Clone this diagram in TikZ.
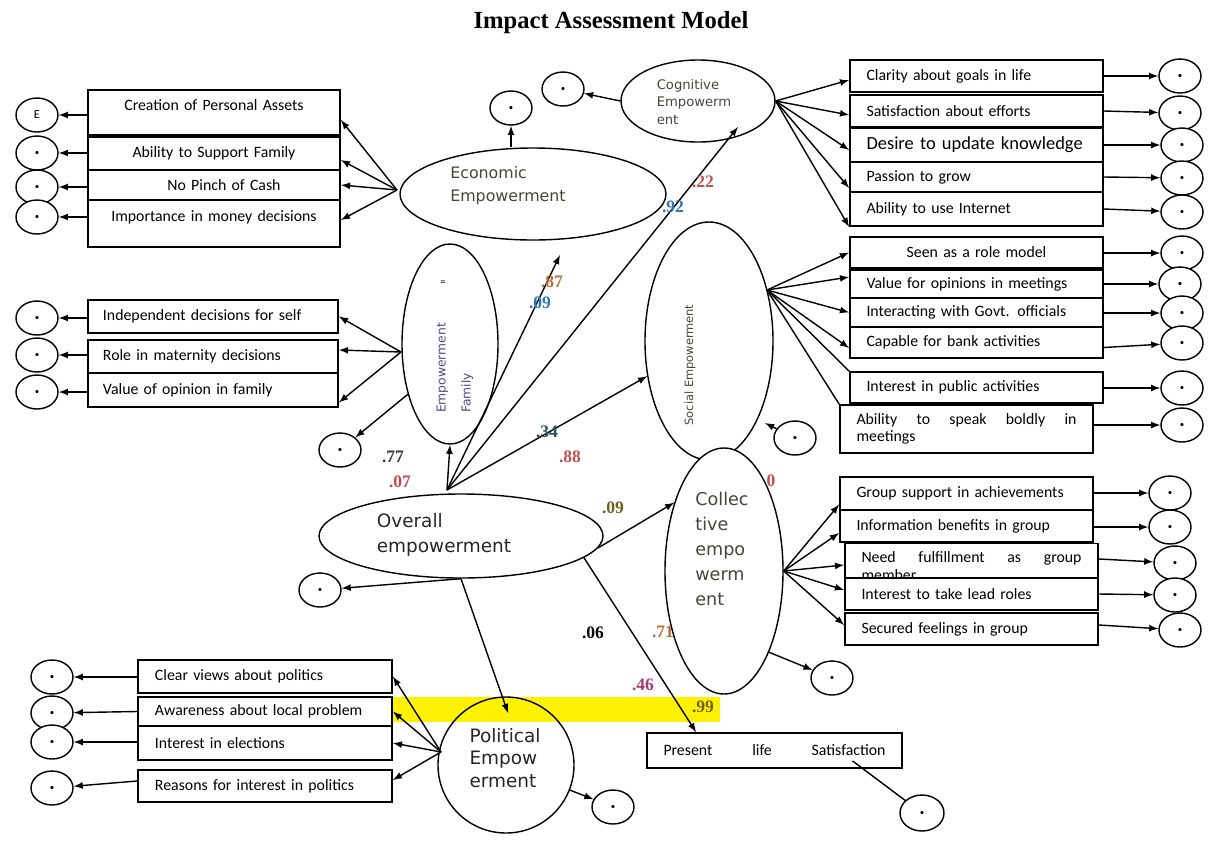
\documentclass[tikz,border=0pt]{standalone}
\usepackage{fontspec}
\setmainfont{Carlito}
\newfontfamily\latfont{DejaVu Sans}
\newfontfamily\numfont{Liberation Serif}
\usepackage{tikz}
\usetikzlibrary{arrows,shapes.geometric}
\definecolor{hilite}{RGB}{255,242,0}
\definecolor{numred}{RGB}{192,80,77}
\definecolor{numblue}{RGB}{46,117,182}
\definecolor{numbrown}{RGB}{184,112,58}
\definecolor{numolive}{RGB}{110,100,30}
\definecolor{numgreen}{RGB}{45,65,45}
\definecolor{numpurple}{RGB}{160,60,120}
\definecolor{labgray}{RGB}{70,70,60}
\definecolor{famviolet}{RGB}{85,70,130}

\begin{document}
\begin{tikzpicture}[x=0.2mm,y=-0.2mm,
        ind/.style={draw, fill=white, line width=1pt, inner sep=0pt, minimum width=50.6mm,
                    text width=44mm, align=left, font=\fontsize{9}{10}\selectfont},
        err/.style={draw, ellipse, fill=white, line width=0.8pt, inner sep=0pt,
                    minimum width=8.4mm, minimum height=6.8mm, font=\fontsize{5}{5}\selectfont},
        lat/.style={draw, ellipse, line width=0.8pt, inner sep=0pt},
        lattxt/.style={align=left, text=labgray, font=\latfont\fontsize{9}{13}\selectfont},
        coef/.style={font=\numfont\bfseries\fontsize{10}{10}\selectfont},
        conn/.style={-latex, line width=0.8pt},
        plain/.style={line width=0.8pt}]

        \useasboundingbox (0,0) rectangle (1209,842);
        \fill[hilite] (392,697) rectangle (720,722);

        \node[font=\numfont\bfseries\fontsize{14}{14}\selectfont] (title) at (611,23) {Impact Assessment Model};

        \node[lat, minimum width=53.2mm, minimum height=18.4mm] (econ) at (533,194) {};
        \node[lattxt] (econtxt) at (508,186) {Economic\\Empowerment};
        \node[lat, minimum width=30.8mm, minimum height=16.4mm] (cog) at (698,101) {};
        \node[lattxt, font=\latfont\fontsize{7.5}{10}\selectfont] (cogtxt) at (694,102) {Cognitive\\Empowerm\\ent};
        \node[lat, minimum width=25.6mm, minimum height=47.6mm] (soc) at (709,341) {};
        \node[lattxt, rotate=90, font=\latfont\fontsize{6.5}{8}\selectfont] (soctxt) at (690,365) {Social Empowerment};
        \node[lat, fill=white, minimum width=23.6mm, minimum height=49.2mm] (col) at (724,571) {};
        \node[lattxt, font=\latfont\fontsize{10}{14.2}\selectfont] (coltxt) at (722,549) {Collec\\tive\\empo\\werm\\ent};
        \node[lat, minimum width=19.2mm, minimum height=40mm] (fam) at (450,344) {};
        \node[lattxt, rotate=90, text=famviolet, font=\latfont\fontsize{7}{14.2}\selectfont] (famtxt) at (455,368) {Empowerment\\Family};
        \node[font=\fontsize{6}{6}\selectfont] (fammark) at (443,283) {=};
        \node[lat, minimum width=56.8mm, minimum height=16.8mm] (ov) at (461,536) {};
        \node[lattxt, text=black!85, font=\latfont\fontsize{10.5}{14.2}\selectfont] (ovtxt) at (444,535) {Overall\\empowerment};
        \node[lat, minimum width=27.2mm, minimum height=27.2mm] (pol) at (506,765) {};
        \node[lattxt, text=black!85, font=\latfont\fontsize{10.5}{13}\selectfont] (poltxt) at (505,758) {Political\\Empow\\erment};

        \node[ind, align=center, minimum width=50.4mm, minimum height=9mm, text depth=3mm] (eb1) at (214,112.5) {Creation of Personal Assets};
        \node[ind, align=center, minimum width=50.4mm, minimum height=6.6mm] (eb2) at (214,153.5) {Ability to Support Family};
        \node[ind, align=center, minimum width=50.4mm, minimum height=6mm] (eb3) at (214,185) {\hspace*{4mm}No Pinch of Cash};
        \node[ind, align=center, minimum width=50.4mm, minimum height=9.4mm, text depth=3mm] (eb4) at (214,223.5) {Importance in money decisions};

        \node[ind, minimum width=50mm, minimum height=6.6mm] (fb1) at (213,316.5) {Independent decisions for self};
        \node[ind, minimum width=50mm, minimum height=6.6mm] (fb2) at (213,356.5) {Role in maternity decisions};
        \node[ind, minimum width=50mm, minimum height=6.8mm] (fb3) at (213,390) {Value of opinion in family};

        \node[ind, minimum height=6.4mm] (cb1) at (976.5,76) {Clarity about goals in life};
        \node[ind, minimum height=6.4mm] (cb2) at (976.5,111) {Satisfaction about efforts};
        \node[ind, minimum height=6.8mm, font=\fontsize{10.5}{11}\selectfont] (cb3) at (976.5,145) {Desire to update knowledge};
        \node[ind, minimum height=6mm] (cb4) at (976.5,177) {Passion to grow};
        \node[ind, minimum height=6.8mm] (cb5) at (976.5,209) {Ability to use Internet};

        \node[ind, align=center, minimum height=6.2mm] (sb1) at (976.5,252.5) {Seen as a role model};
        \node[ind, minimum height=5.6mm] (sb2) at (976.5,284) {Value for opinions in meetings};
        \node[ind, minimum height=5.8mm] (sb3) at (976.5,312.5) {Interacting with Govt. officials};
        \node[ind, minimum height=6.2mm] (sb4) at (976.5,342.5) {Capable for bank activities};
        \node[ind, minimum height=6.2mm] (sb5) at (976.5,387.5) {Interest in public activities};
        \node[ind, minimum height=9.6mm] (sb6) at (966.5,429) {Ability\hfill to\hfill speak\hfill boldly\hfill in\\meetings};

        \node[ind, minimum height=6.6mm] (kb1) at (966.5,493.5) {Group support in achievements};
        \node[ind, minimum height=6.4mm] (kb2) at (966.5,526) {Information benefits in group};
        \node[ind, minimum height=7mm, text depth=1.6mm] (kb3) at (971.5,561) {Need\hfill fulfillment\hfill as\hfill group\\member};
        \node[ind, minimum height=6.4mm] (kb4) at (971.5,594) {Interest to take lead roles};
        \node[ind, minimum height=6.4mm] (kb5) at (971.5,629) {Secured feelings in group};

        \node[ind, minimum width=50.8mm, minimum height=6.6mm] (pb1) at (265,676.5) {Clear views about politics};
        \node[ind, minimum width=50.8mm, minimum height=5.8mm] (pb2) at (265,711.5) {Awareness about local problem};
        \node[ind, minimum width=50.8mm, minimum height=6.8mm] (pb3) at (265,743) {Interest in elections};
        \node[ind, minimum width=50.8mm, minimum height=6.4mm] (pb4) at (265,786) {Reasons for interest in politics};

        \node[ind, minimum width=51mm, text width=44.4mm, minimum height=7mm] (pls) at (774.5,750.5) {Present\hfill life\hfill Satisfaction};

        \node[err, font=\fontsize{7}{7}\selectfont] (ee1) at (37,115) {E};
        \node[err] (ee2) at (37,153) {•};
        \node[err] (ee3) at (37,187) {•};
        \node[err] (ee4) at (37,217) {•};
        \node[err] (fe1) at (37,318) {•};
        \node[err] (fe2) at (37,355) {•};
        \node[err] (fe3) at (37,392) {•};
        \node[err] (pe1) at (52,677) {•};
        \node[err] (pe2) at (52,713) {•};
        \node[err] (pe3) at (52,742) {•};
        \node[err] (pe4) at (52,788) {•};
        \node[err] (ce1) at (1180,76) {•};
        \node[err] (ce2) at (1180,113) {•};
        \node[err] (ce3) at (1182,145) {•};
        \node[err] (ce4) at (1182,178) {•};
        \node[err] (ce5) at (1182,212) {•};
        \node[err] (se1) at (1182,253) {•};
        \node[err] (se2) at (1180,284) {•};
        \node[err] (se3) at (1182,313) {•};
        \node[err] (se4) at (1182,343) {•};
        \node[err] (se5) at (1182,388) {•};
        \node[err] (se6) at (1182,425) {•};
        \node[err] (ke1) at (1170,493) {•};
        \node[err] (ke2) at (1170,527) {•};
        \node[err] (ke3) at (1175,563) {•};
        \node[err] (ke4) at (1175,595) {•};
        \node[err] (ke5) at (1180,630) {•};
        \node[err] (econerr) at (511,108) {•};
        \node[err] (cogerr) at (563,89) {•};
        \node[err] (socerr) at (795,438) {•};
        \node[err] (colerr) at (832,678) {•};
        \node[err] (overr) at (320,590) {•};
        \node[err] (famerr) at (340,450) {•};
        \node[err] (polerr) at (613,807) {•};
        \node[err, minimum width=8.8mm, minimum height=7.2mm] (plserr) at (922,813) {•};

        \coordinate (econsrc) at (397,190);
        \coordinate (famsrc) at (401,352);
        \coordinate (polsrc) at (441,752);
        \coordinate (socsrc) at (767,290);
        \coordinate (socin) at (765,423);
        \coordinate (ovtop) at (447,490);
        \coordinate (econin) at (560,255);
        \coordinate (cogin) at (738,127);
        \coordinate (polin) at (508,713);

        \draw[conn] (eb1.west |- ee1) -- (ee1);
        \draw[conn] (eb2.west |- ee2) -- (ee2);
        \draw[conn] (eb3.west |- ee3) -- (ee3);
        \draw[conn] (eb4.west |- ee4) -- (ee4);
        \draw[conn] (fb1.west |- fe1) -- (fe1);
        \draw[conn] (fb2.west |- fe2) -- (fe2);
        \draw[conn] (fb3.west |- fe3) -- (fe3);
        \draw[conn] (pb1.west |- pe1) -- (pe1);
        \draw[conn] (pb2.west) -- (pe2);
        \draw[conn] (pb3.west |- pe3) -- (pe3);
        \draw[conn] ([yshift=1mm]pb4.west) -- (pe4);
        \draw[conn] (cb1.east |- ce1) -- (ce1);
        \draw[conn] (cb2.east) -- (ce2);
        \draw[conn] (cb3.east) -- (ce3);
        \draw[conn] (cb4.east) -- (ce4);
        \draw[conn] (cb5.east) -- (ce5);
        \draw[conn] (sb1.east |- se1) -- (se1);
        \draw[conn] (sb2.east |- se2) -- (se2);
        \draw[conn] (sb3.east |- se3) -- (se3);
        \draw[conn] ([yshift=-1mm]sb4.east) -- (se4);
        \draw[conn] (sb5.east |- se5) -- (se5);
        \draw[conn] (sb6.east |- se6) -- (se6);
        \draw[conn] (kb1.east |- ke1) -- (ke1);
        \draw[conn] (kb2.east |- ke2) -- (ke2);
        \draw[conn] ([yshift=0.4mm]kb3.east) -- (ke3);
        \draw[conn] (kb4.east) -- (ke4);
        \draw[conn] ([yshift=0.8mm]kb5.east) -- (ke5);

        \draw[conn] (econsrc) -- ([yshift=-1.5mm]eb1.east);
        \draw[conn] (econsrc) -- ([yshift=-1.3mm]eb2.east);
        \draw[conn] (econsrc) -- (eb3.east);
        \draw[conn] (econsrc) -- ([yshift=0.7mm]eb4.east);
        \draw[conn] (econerr |- econ.north) -- (econerr);
        \draw[conn] (famsrc) -- (fb1.east);
        \draw[conn] (famsrc) -- ([yshift=1.3mm]fb2.east);
        \draw[conn] (famsrc) -- ([yshift=-2.5mm]fb3.east);
        \draw[conn] (fam.230) -- (famerr);
        \draw[conn] (cog.east) -- ([yshift=-0.8mm]cb1.west);
        \draw[conn] (cog.east) -- ([yshift=-0.8mm]cb2.west);
        \draw[conn] (cog.east) -- ([yshift=-1mm]cb3.west);
        \draw[conn] (cog.east) -- ([yshift=-2.2mm]cb4.west);
        \draw[conn] (cog.east) -- (cb5.south west);
        \draw[conn] (cog.west) -- (cogerr);
        \draw[conn] (socsrc) -- (sb1.west);
        \draw[conn] (socsrc) -- ([yshift=1.4mm]sb2.west);
        \draw[conn] (socsrc) -- (sb3.west);
        \draw[conn] (socsrc) -- ([yshift=-1.1mm]sb4.west);
        \draw[plain] (socsrc) -- (sb5.north west);
        \draw[plain] (socsrc) -- (sb6.north west);
        \draw[conn] (socerr) -- (socin);
        \draw[conn] (col.east) -- ([yshift=-2.2mm]kb1.west);
        \draw[conn] (col.east) -- ([yshift=-1.4mm]kb2.west);
        \draw[conn] (col.east) -- ([yshift=-0.8mm]kb3.west);
        \draw[conn] (col.east) -- ([yshift=0.8mm]kb4.west);
        \draw[conn] (col.east) -- ([yshift=0.8mm]kb5.west);
        \draw[conn] (col.-61) -- (colerr);
        \draw[conn] (polsrc) -- (pb1.east);
        \draw[conn] (polsrc) -- (pb2.east);
        \draw[conn] (polsrc) -- (pb3.east);
        \draw[conn] (polsrc) -- ([yshift=1.2mm]pb4.east);
        \draw[conn] (pol) -- (polerr);
        \draw[plain] ([xshift=15.6mm,yshift=1.6mm]pls.south) -- (plserr);

        \draw[conn] (ovtop) -- (fam.south);
        \draw[conn] (ovtop) -- (econin);
        \draw[conn] (ovtop) -- (cogin);
        \draw[conn] (ovtop) -- (soc);
        \draw[conn] (ov.-5) -- (col.126);
        \draw[conn] (ov.-10) -- ([xshift=10mm]pls.north west);
        \draw[conn] (ov.south) -- (polin);
        \draw[conn] (ov.south) -- (overr);

        \node[coef, text=numred] (k22) at (703,182) {.22};
        \node[coef, text=numblue] (k92) at (673,207) {.92};
        \node[coef, text=numbrown] (k87) at (552,282) {.87};
        \node[coef, text=numblue] (k09a) at (540,303) {.09};
        \node[coef, text=numgreen!70!numblue] (k34) at (547,432) {.34};
        \node[coef, text=numred] (k88) at (570,457) {.88};
        \node[coef, text=numgreen] (k77) at (393,457) {.77};
        \node[coef, text=numred] (k07) at (400,482) {.07};
        \node[coef, text=numolive] (k09b) at (613,508) {.09};
        \node[coef, text=numred] (k0) at (771,481) {0};
        \node[coef] (k06) at (593,633) {.06};
        \node[coef, text=numbrown] (k71) at (663,632) {.71};
        \node[coef, text=numpurple] (k46) at (643,685) {.46};
        \node[coef, text=numolive] (k99) at (703,707) {.99};

    \end{tikzpicture}
\end{document}
